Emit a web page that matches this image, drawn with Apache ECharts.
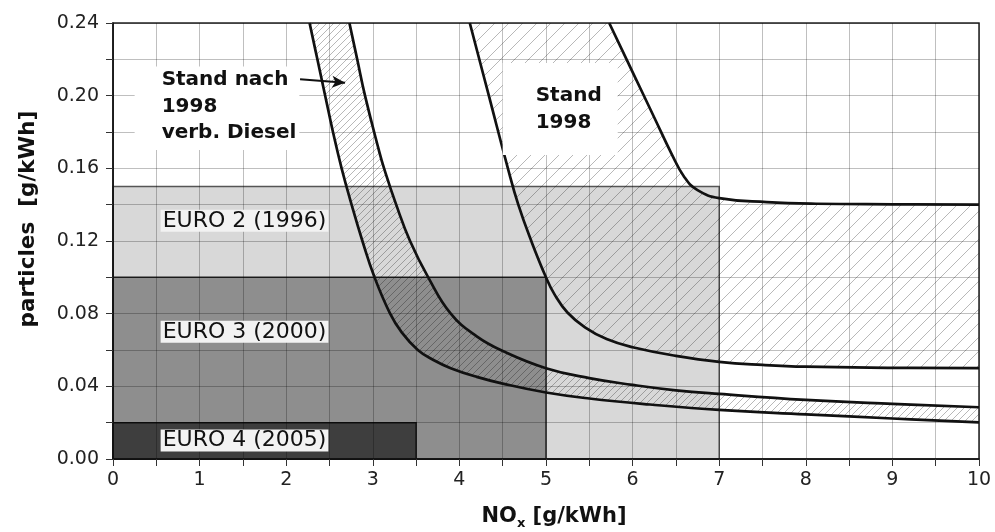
<!DOCTYPE html>
<html>
<head>
<meta charset="utf-8">
<script src="https://cdn.jsdelivr.net/npm/echarts@6/dist/echarts.min.js"></script>
<style>
  html, body { margin: 0; padding: 0; background: #fff; }
  #chart { width: 995px; height: 532px; }
</style>
</head>
<body>
<div id="chart"></div>
<script>
"use strict";

// tick labels
var xTickLabels = ['0', '1', '2', '3', '4', '5', '6', '7', '8', '9', '10'];
var yTickLabels = ['0.00', '0.04', '0.08', '0.12', '0.16', '0.20', '0.24'];

// EURO limits (NOx, particles)
var euroNames = ['EURO 2 (1996)', 'EURO 3 (2000)', 'EURO 4 (2005)'];
var euroNox = [7, 5, 3.5];
var euroPm = [0.15, 0.10, 0.02];

// Stand nach 1998 verb. Diesel - lower / upper boundary
var dieselLow = [[2.27, 0.24], [2.36, 0.22], [2.45, 0.20], [2.54, 0.18], [2.64, 0.16], [2.755, 0.14],
    [2.88, 0.12], [3.02, 0.10], [3.20, 0.08], [3.33, 0.07], [3.52, 0.06], [3.70, 0.0545],
    [3.9, 0.050], [4.2, 0.0452], [4.5, 0.0415], [5.0, 0.0366], [5.5, 0.0333], [6.2, 0.030],
    [7, 0.027], [8, 0.0246], [9, 0.0223], [10, 0.0202]];
var dieselHigh = [[2.73, 0.24], [2.82, 0.22], [2.91, 0.20], [3.07, 0.17], [3.13, 0.16], [3.27, 0.14],
    [3.43, 0.12], [3.64, 0.10], [3.90, 0.08], [4.2, 0.0675], [4.5, 0.0595], [5.0, 0.050],
    [5.5, 0.0445], [6.0, 0.0408], [6.5, 0.0378], [7, 0.0358], [8, 0.0325], [9, 0.0303], [10, 0.0285]];

// Stand 1998 - lower / upper boundary
var stand98Low = [[4.12, 0.24], [4.34, 0.20], [4.56, 0.16], [4.68, 0.14], [4.83, 0.12], [5.0, 0.10],
    [5.1, 0.0905], [5.25, 0.0805], [5.45, 0.0725], [5.7, 0.066], [6.0, 0.0615], [6.5, 0.0568],
    [7.0, 0.0535], [7.5, 0.0518], [8, 0.0508], [9, 0.0502], [10, 0.050]];
var stand98High = [[5.73, 0.24], [6.0, 0.213], [6.25, 0.188], [6.45, 0.168], [6.6, 0.155],
    [6.75, 0.148], [7.0, 0.1436], [7.55, 0.1414], [8.12, 0.1405], [9, 0.1402], [10, 0.140]];

// text annotations (anchor = top-left of box / left-middle for EURO)
var noteTexts = ['Stand nach\n1998\nverb. Diesel', 'Stand\n1998'];
var noteAnchor = [[0.25, 0.216], [4.50, 0.218]];
var euroLabelAnchor = [[0.55, 0.1311], [0.55, 0.070], [0.55, 0.0102]];
var arrowFrom = [2.16, 0.209];
var arrowTo = [2.68, 0.2071];

var FONT = '"DejaVu Sans", sans-serif';

function hatch(step) {
    var c = document.createElement('canvas');
    c.width = step;
    c.height = step;
    var ctx = c.getContext('2d');
    ctx.strokeStyle = 'rgba(0,0,0,0.28)';
    ctx.lineWidth = 1;
    ctx.beginPath();
    ctx.moveTo(0, step); ctx.lineTo(step, 0);
    ctx.moveTo(-2, 2); ctx.lineTo(2, -2);
    ctx.moveTo(step - 2, step + 2); ctx.lineTo(step + 2, step - 2);
    ctx.stroke();
    return c;
}

var hatchRegions = [
    dieselLow.concat(dieselHigh.slice().reverse()),
    stand98Low.concat(stand98High.slice().reverse())
];
var hatchPatterns = [hatch(7), hatch(14)];

var euroFill = ['#d8d8d8', '#8e8e8e', '#3e3e3e'];
var euroStroke = ['#555', '#222', '#111'];

var chart = echarts.init(document.getElementById('chart'));

var axisCommon = {
    z: 3,
    axisLine: { show: true, onZero: false, lineStyle: { color: '#111', width: 1.5 } },
    axisTick: { show: true, inside: false, length: 7, lineStyle: { color: '#333' } },
    minorTick: { show: true, splitNumber: 2, length: 7, lineStyle: { color: '#333' } },
    splitLine: { show: true, lineStyle: { color: 'rgba(0,0,0,0.25)', width: 1 } },
    minorSplitLine: { show: true, lineStyle: { color: 'rgba(0,0,0,0.25)', width: 1 } }
};

var curveStyle = { color: '#111', width: 2.7 };

function curve(data) {
    return { type: 'line', z: 4, data: data, smooth: 0.45, showSymbol: false, lineStyle: curveStyle };
}

var option = {
    animation: false,
    grid: {
        left: 113, right: 16, top: 23, bottom: 73,
        containLabel: false,
        outerBoundsMode: 'none',
        show: true, z: 3,
        backgroundColor: 'transparent',
        borderColor: '#222', borderWidth: 1.5
    },
    xAxis: Object.assign({}, axisCommon, {
        type: 'value', min: 0, max: 10, interval: 1,
        name: '{b|NO}{s|x}{b| [g/kWh]}',
        nameLocation: 'middle', nameGap: 45,
        nameTextStyle: {
            padding: [0, 0, 0, 16],
            rich: {
                b: { fontFamily: FONT, fontWeight: 'bold', fontSize: 21, color: '#111', lineHeight: 26 },
                s: { fontFamily: FONT, fontWeight: 'bold', fontSize: 13, color: '#111', lineHeight: 12, verticalAlign: 'bottom' }
            }
        },
        axisLabel: {
            margin: 12, fontFamily: FONT, fontSize: 19, color: '#222',
            formatter: function (v) { return xTickLabels[Math.round(v)]; }
        }
    }),
    yAxis: Object.assign({}, axisCommon, {
        type: 'value', min: 0, max: 0.24, interval: 0.04,
        name: 'particles  [g/kWh]',
        nameLocation: 'middle', nameGap: 74,
        nameTextStyle: { fontFamily: FONT, fontWeight: 'bold', fontSize: 21.5, color: '#111', padding: [0, 0, 0, 44] },
        axisLabel: {
            margin: 14, fontFamily: FONT, fontSize: 19, color: '#222',
            formatter: function (v) { return yTickLabels[Math.round(v / 0.04)]; }
        }
    }),
    series: [
        {
            // EURO limit boxes
            type: 'custom',
            z: 1,
            data: euroNox.map(function (x, i) { return [x, euroPm[i]]; }),
            renderItem: function (params, api) {
                var p0 = api.coord([0, 0]);
                var p1 = api.coord([api.value(0), api.value(1)]);
                var i = params.dataIndex;
                return {
                    type: 'rect',
                    shape: { x: p0[0], y: p1[1], width: p1[0] - p0[0], height: p0[1] - p1[1] },
                    style: { fill: euroFill[i], stroke: euroStroke[i], lineWidth: 1.5 }
                };
            }
        },
        {
            // hatched areas
            type: 'custom',
            z: 2,
            data: [[0], [1]],
            renderItem: function (params, api) {
                var pts = hatchRegions[params.dataIndex].map(function (p) { return api.coord(p); });
                return {
                    type: 'polygon',
                    shape: { points: pts, smooth: 0 },
                    style: { fill: { image: hatchPatterns[params.dataIndex], repeat: 'repeat' }, stroke: null }
                };
            }
        },
        curve(dieselLow),
        curve(dieselHigh),
        curve(stand98Low),
        curve(stand98High),
        {
            // EURO labels
            type: 'custom',
            z: 5,
            data: euroLabelAnchor,
            renderItem: function (params, api) {
                var p = api.coord([api.value(0), api.value(1)]);
                return {
                    type: 'text',
                    style: {
                        x: p[0], y: p[1], text: euroNames[params.dataIndex],
                        font: '22px ' + FONT, fill: '#111',
                        align: 'left', verticalAlign: 'middle',
                        backgroundColor: '#f2f2f2', padding: [0, 2, 0, 2]
                    }
                };
            }
        },
        {
            // bold notes with white box
            type: 'custom',
            z: 5,
            data: noteAnchor,
            renderItem: function (params, api) {
                var p = api.coord([api.value(0), api.value(1)]);
                var pad = params.dataIndex === 0 ? [0, 3, 4, 27] : [20, 16, 19, 33];
                return {
                    type: 'text',
                    style: {
                        x: p[0], y: p[1], text: noteTexts[params.dataIndex],
                        font: 'bold 20px ' + FONT, fill: '#111', lineHeight: 26.5,
                        align: 'left', verticalAlign: 'top',
                        backgroundColor: '#fff', padding: pad
                    }
                };
            }
        },
        {
            // arrow
            type: 'line',
            z: 6,
            data: [],
            markLine: {
                silent: true,
                symbol: ['none', 'arrow'],
                symbolSize: [9, 13],
                label: { show: false },
                lineStyle: { color: '#111', width: 2, type: 'solid' },
                data: [[{ coord: arrowFrom }, { coord: arrowTo }]]
            }
        }
    ]
};

chart.setOption(option);
</script>
</body>
</html>
